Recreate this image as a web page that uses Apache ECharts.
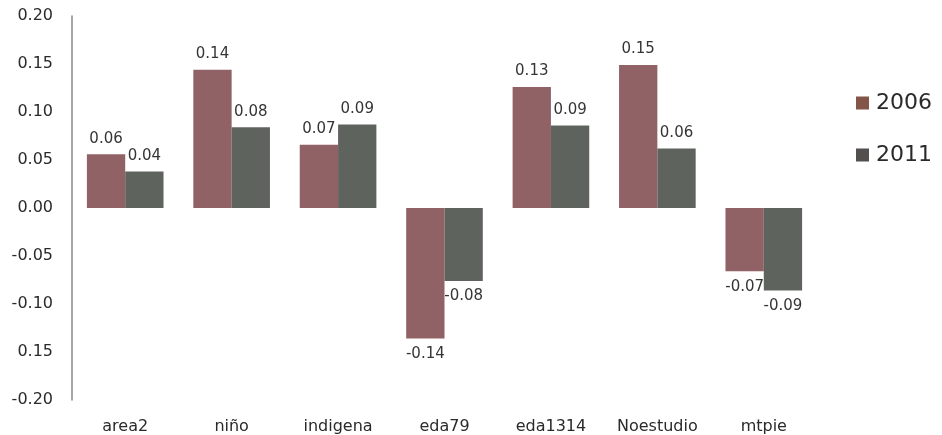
<!DOCTYPE html>
<html>
<head>
<meta charset="utf-8">
<script src="https://cdn.jsdelivr.net/npm/echarts@6/dist/echarts.min.js"></script>
<style>
  html, body { margin: 0; padding: 0; background: #ffffff; }
  #chart { width: 942px; height: 435px; }
</style>
</head>
<body>
<div id="chart"></div>
<script>
// Variable names along the horizontal axis
const categories = ['area2', 'niño', 'indigena', 'eda79', 'eda1314', 'Noestudio', 'mtpie'];
// Coefficients per year
const values2006 = [0.056, 0.144, 0.066, -0.136, 0.126, 0.149, -0.066];
const values2011 = [0.038, 0.084, 0.087, -0.076, 0.086, 0.062, -0.086];
// Vertical axis labels, bottom to top
const yTickLabels = ['-0.20', '0.15', '-0.10', '-0.05', '0.00', '0.05', '0.10', '0.15', '0.20'];

const FONT = '"DejaVu Sans", sans-serif';
const TEXT = '#2a2a2a';

function toItems(arr) {
  return arr.map(v => ({
    value: v,
    label: { position: v < 0 ? 'bottom' : 'top' }
  }));
}

const labelStyle = {
  show: true,
  fontFamily: FONT,
  fontSize: 15,
  color: TEXT,
  distance: 8,
  formatter: p => p.value.toFixed(2)
};

const chart = echarts.init(document.getElementById('chart'), null, { renderer: 'canvas' });
chart.setOption({
  backgroundColor: '#ffffff',
  animation: false,
  grid: { left: 72, right: 125, top: 16, bottom: 35, containLabel: false },
  legend: {
    orient: 'vertical',
    right: 5,
    top: 87,
    itemWidth: 13,
    itemHeight: 13,
    itemGap: 30,
    icon: 'rect',
    textStyle: { fontFamily: FONT, fontSize: 22, color: TEXT, padding: [0, 0, 0, 2] },
    data: [
      { name: '2006', itemStyle: { color: '#7b4c3c' } },
      { name: '2011', itemStyle: { color: '#4a4645' } }
    ]
  },
  xAxis: {
    type: 'category',
    data: categories,
    position: 'bottom',
    axisLine: { show: false, onZero: false },
    axisTick: { show: false },
    axisLabel: { fontFamily: FONT, fontSize: 16, color: TEXT, margin: 19 }
  },
  yAxis: {
    type: 'value',
    min: -0.2,
    max: 0.2,
    interval: 0.05,
    axisLine: { show: true, lineStyle: { color: '#8a8a8a', width: 1.5 } },
    axisTick: { show: false },
    splitLine: { show: false },
    axisLabel: {
      fontFamily: FONT,
      fontSize: 16,
      color: TEXT,
      margin: 19,
      formatter: (v, i) => yTickLabels[i]
    }
  },
  series: [
    {
      name: '2006',
      type: 'bar',
      data: toItems(values2006),
      barGap: '0%',
      barCategoryGap: '28%',
      itemStyle: { color: '#8a5a5e', opacity: 0.95 },
      label: labelStyle
    },
    {
      name: '2011',
      type: 'bar',
      data: toItems(values2011),
      itemStyle: { color: '#565b55', opacity: 0.95 },
      label: labelStyle
    }
  ]
});
</script>
</body>
</html>
